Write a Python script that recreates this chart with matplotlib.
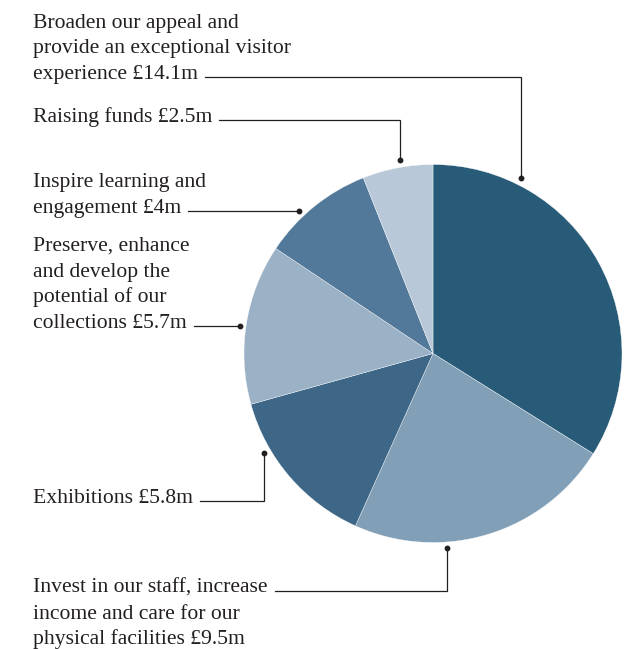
import matplotlib.pyplot as plt

W, H = 643, 649

# spending by strategic aim, £m
values = [14.1, 9.5, 5.8, 5.7, 4.0, 2.5]
labels = [
    ["Broaden our appeal and", "provide an exceptional visitor", "experience £14.1m"],
    ["Invest in our staff, increase", "income and care for our", "physical facilities £9.5m"],
    ["Exhibitions £5.8m"],
    ["Preserve, enhance", "and develop the", "potential of our", "collections £5.7m"],
    ["Inspire learning and", "engagement £4m"],
    ["Raising funds £2.5m"],
]
colors = ["#285b78", "#819fb6", "#3e6787", "#9bb1c6", "#52799a", "#b8c8d8"]

# label layout in pixels: (leader y, line of text the leader leaves from, corner x, dot y)
leaders = [
    (77, 2, 521, 178),
    (591, 0, 447, 548),
    (501, 0, 264, 453),
    (326, 3, 240, 326),
    (211, 1, 299, 211),
    (120, 0, 400, 160),
]
text_x = 33
line_step = 25.7

fig = plt.figure(figsize=(W / 100, H / 100), dpi=100)
ax = fig.add_axes([0, 0, 1, 1])

def fy(y):  # pixel row -> data y
    return H - y

ax.pie(values, colors=colors, startangle=90, counterclock=False,
       center=(433, fy(353.5)), radius=189,
       wedgeprops=dict(edgecolor="white", linewidth=0.25))
ax.set_xlim(0, W)
ax.set_ylim(0, H)
ax.set_aspect("equal")
ax.axis("off")

font = dict(family="Liberation Serif", size=15.6, color="#231f20")
fig.canvas.draw()
renderer = fig.canvas.get_renderer()

for lines, (ly, attach, cx, dy) in zip(labels, leaders):
    base = ly + 2 - attach * line_step
    texts = []
    for i, line in enumerate(lines):
        t = ax.text(text_x, fy(base + i * line_step), line, ha="left", va="baseline", **font)
        texts.append(t)
    end_x = texts[attach].get_window_extent(renderer).x1 + 7
    ax.plot([end_x, cx, cx], [fy(ly), fy(ly), fy(dy)], color="#231f20", lw=0.9,
            solid_joinstyle="miter")
    ax.plot([cx], [fy(dy)], "o", color="#231f20", ms=3.2)

fig.savefig("out.png", dpi=100)
